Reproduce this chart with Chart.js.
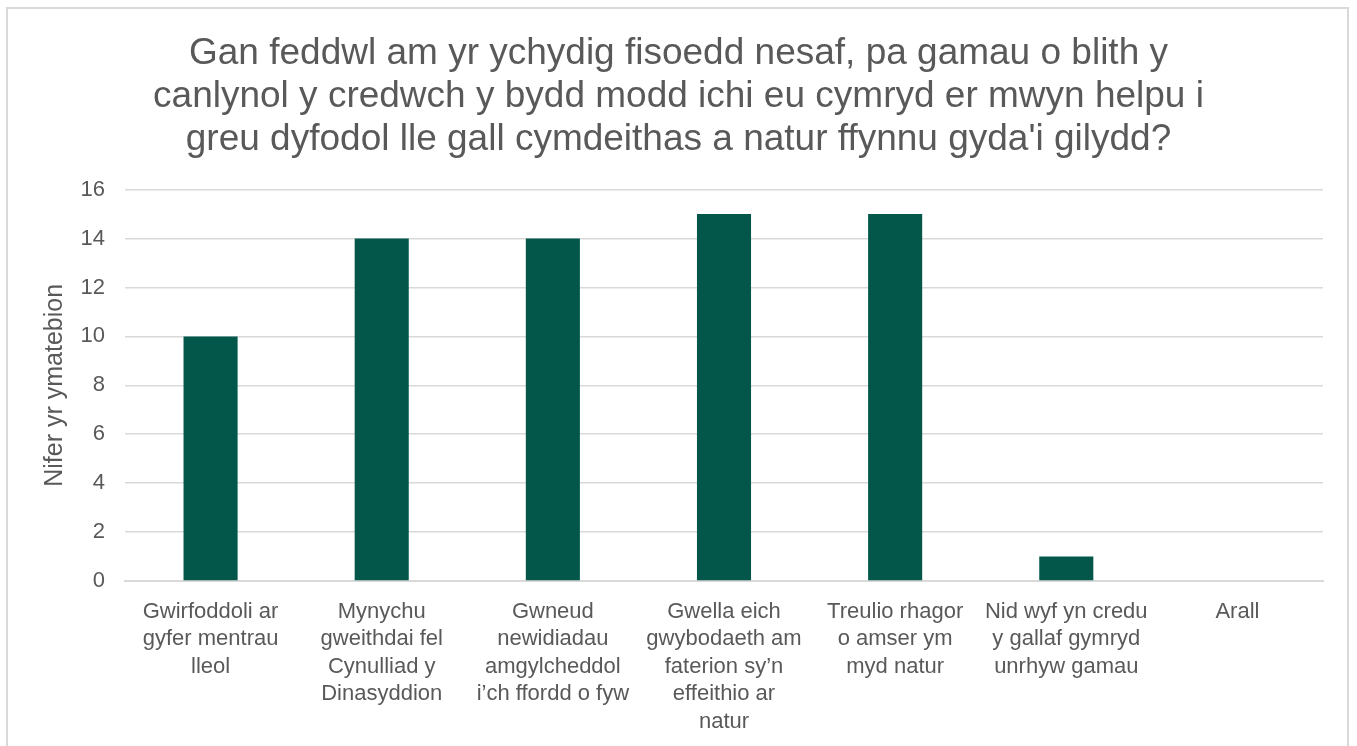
<!DOCTYPE html>
<html>
<head>
<meta charset="utf-8">
<script src="https://cdn.jsdelivr.net/npm/chart.js@4"></script>
<style>
    html, body { margin: 0; padding: 0; background: #fff; overflow: hidden; }
    #frame {
        position: absolute; left: 6px; top: 7px;
        width: 1343px; height: 760px;
        border: 2px solid #d9d9d9; box-sizing: border-box;
    }
    #wrap { position: absolute; left: 0; top: 0; width: 1357px; height: 746px; }
</style>
</head>
<body>
<div id="frame"></div>
<div id="wrap"><canvas id="chart" width="1357" height="746"></canvas></div>
<script>
// Chart data
const titleLines = [
    'Gan feddwl am yr ychydig fisoedd nesaf, pa gamau o blith y',
    'canlynol y credwch y bydd modd ichi eu cymryd er mwyn helpu i',
    "greu dyfodol lle gall cymdeithas a natur ffynnu gyda'i gilydd?"
];
const categories = [
    ['Gwirfoddoli ar', 'gyfer mentrau', 'lleol'],
    ['Mynychu', 'gweithdai fel', 'Cynulliad y', 'Dinasyddion'],
    ['Gwneud', 'newidiadau', 'amgylcheddol', 'i\u2019ch ffordd o fyw'],
    ['Gwella eich', 'gwybodaeth am', 'faterion sy\u2019n', 'effeithio ar', 'natur'],
    ['Treulio rhagor', 'o amser ym', 'myd natur'],
    ['Nid wyf yn credu', 'y gallaf gymryd', 'unrhyw gamau'],
    ['Arall']
];
const responses = [10, 14, 14, 15, 15, 1, 0];
const yAxisLabel = 'Nifer yr ymatebion';

const textColor = '#595959';
const gridColor = '#d9d9d9';
const barColor = '#03574a';
const fontFamily = 'Arial, "Liberation Sans", sans-serif';

document.addEventListener('DOMContentLoaded', () => {
    const ctx = document.getElementById('chart');
    new Chart(ctx, {
        type: 'bar',
        data: {
            labels: categories,
            datasets: [{
                label: yAxisLabel,
                data: responses,
                backgroundColor: barColor,
                categoryPercentage: 1,
                barPercentage: 0.316
            }]
        },
        options: {
            responsive: false,
            animation: false,
            devicePixelRatio: 1,
            layout: { padding: { left: 34, right: 34, top: 0, bottom: 0 } },
            plugins: {
                legend: { display: false },
                tooltip: { enabled: false },
                title: {
                    display: true,
                    text: titleLines,
                    color: textColor,
                    font: { family: fontFamily, size: 37, weight: 'normal', lineHeight: 1.15 },
                    padding: { top: 33, bottom: 29 }
                }
            },
            scales: {
                x: {
                    grid: { display: false, drawTicks: false },
                    border: { display: true, color: gridColor, width: 2 },
                    ticks: {
                        color: textColor,
                        maxRotation: 0,
                        autoSkip: false,
                        padding: 17,
                        font: { family: fontFamily, size: 22, lineHeight: 1.25 }
                    },
                    afterFit: (scale) => { scale.height = 165; }
                },
                y: {
                    min: 0,
                    max: 16,
                    ticks: {
                        stepSize: 2,
                        color: textColor,
                        padding: 20,
                        font: { family: fontFamily, size: 22 }
                    },
                    grid: { color: gridColor, lineWidth: 1.5, drawTicks: false },
                    border: { display: false },
                    title: {
                        display: true,
                        text: yAxisLabel,
                        color: textColor,
                        font: { family: fontFamily, size: 25 },
                        padding: { top: 6, bottom: 0 }
                    },
                    afterFit: (scale) => { scale.width = 91; }
                }
            }
        }
    });
});
</script>
</body>
</html>
